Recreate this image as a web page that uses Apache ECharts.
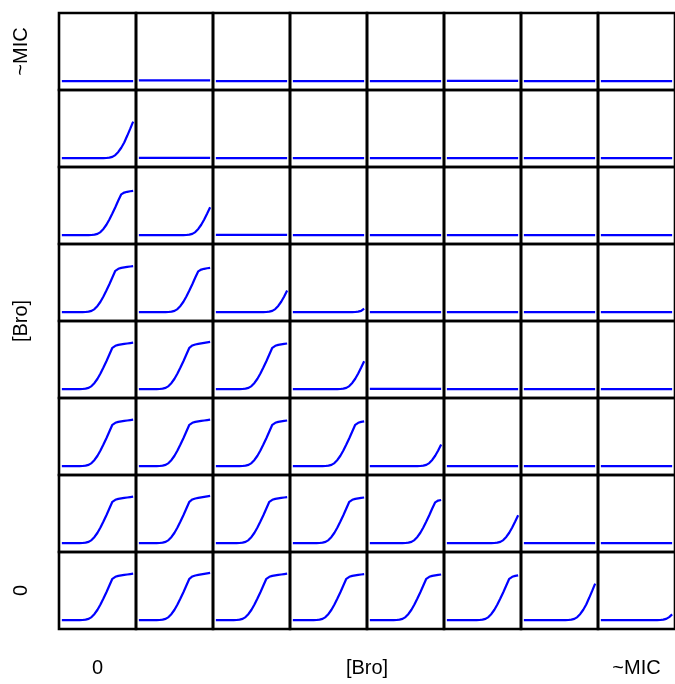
<!DOCTYPE html>
<html>
<head>
<meta charset="utf-8">
<script src="https://cdn.jsdelivr.net/npm/echarts@6/dist/echarts.min.js"></script>
<style>
html,body{margin:0;padding:0;background:#fff;}
#chart{width:675px;height:684px;}
</style>
</head>
<body>
<div id="chart"></div>
<script>
// time points (hours) shared by every panel
const hours = [0,1,2,3,4,5,6,7,8,9,10,11,12,13,14,15,16,17,18,19,20,21,22,23,24];

// tick / axis labels
const bottomLabels = ['0', '[Bro]', '~MIC'];
const leftLabels = ['~MIC', '[Bro]', '0'];

// flat (no growth) curves
const flatA = [0.115,0.115,0.116,0.115,0.115,0.116,0.115,0.115,0.116,0.115,0.115,0.116,0.115,0.115,0.115,0.116,0.115,0.115,0.116,0.115,0.115,0.116,0.115,0.116,0.116];
const flatB = [0.124,0.125,0.124,0.125,0.125,0.124,0.125,0.125,0.124,0.125,0.125,0.124,0.125,0.125,0.124,0.125,0.125,0.124,0.125,0.125,0.124,0.125,0.125,0.124,0.124];
const flatC = [0.118,0.118,0.118,0.119,0.118,0.118,0.118,0.119,0.118,0.118,0.118,0.119,0.118,0.118,0.118,0.119,0.118,0.118,0.118,0.119,0.118,0.118,0.118,0.119,0.118];

// growth curves, named by the hour at which the sharp bend (kink) appears
const grow17 = [0.115,0.115,0.115,0.115,0.116,0.115,0.116,0.117,0.121,0.131,0.155,0.195,0.25,0.318,0.395,0.478,0.565,0.652,0.678,0.69,0.697,0.703,0.708,0.713,0.718];
const grow17b = [0.115,0.115,0.115,0.115,0.115,0.116,0.116,0.117,0.121,0.131,0.155,0.195,0.25,0.318,0.395,0.478,0.565,0.652,0.682,0.695,0.703,0.71,0.716,0.722,0.728];
const grow18 = [0.115,0.115,0.115,0.115,0.115,0.115,0.116,0.116,0.117,0.121,0.131,0.155,0.195,0.25,0.318,0.395,0.478,0.565,0.652,0.678,0.69,0.697,0.703,0.708,0.713];
const grow19 = [0.115,0.115,0.115,0.115,0.115,0.115,0.115,0.116,0.116,0.117,0.121,0.131,0.155,0.195,0.25,0.318,0.395,0.478,0.565,0.652,0.678,0.69,0.697,0.703,0.708];
const grow20 = [0.115,0.115,0.115,0.115,0.115,0.115,0.115,0.115,0.116,0.116,0.117,0.121,0.131,0.155,0.195,0.25,0.318,0.395,0.478,0.565,0.645,0.668,0.678,0.685,0.69];
const grow21 = [0.115,0.115,0.115,0.115,0.115,0.115,0.115,0.115,0.115,0.116,0.116,0.117,0.121,0.131,0.155,0.195,0.25,0.318,0.395,0.478,0.565,0.652,0.678,0.69,0.697];
const grow22 = [0.115,0.115,0.115,0.115,0.115,0.115,0.115,0.115,0.115,0.115,0.116,0.116,0.117,0.121,0.131,0.155,0.195,0.25,0.318,0.395,0.478,0.565,0.645,0.668,0.675];
const grow25 = [0.115,0.115,0.115,0.115,0.115,0.115,0.115,0.115,0.115,0.115,0.115,0.115,0.115,0.115,0.116,0.117,0.121,0.131,0.155,0.195,0.25,0.318,0.405,0.495,0.59];
const grow26 = [0.115,0.115,0.115,0.115,0.115,0.115,0.115,0.115,0.115,0.115,0.115,0.115,0.115,0.115,0.115,0.116,0.117,0.121,0.131,0.155,0.195,0.25,0.318,0.395,0.478];
const grow27 = [0.115,0.115,0.115,0.115,0.115,0.115,0.115,0.115,0.115,0.115,0.115,0.115,0.115,0.115,0.115,0.115,0.116,0.117,0.121,0.131,0.155,0.195,0.25,0.318,0.395];
const grow30 = [0.115,0.115,0.115,0.115,0.115,0.115,0.115,0.115,0.115,0.115,0.115,0.115,0.115,0.115,0.115,0.115,0.115,0.115,0.115,0.116,0.117,0.121,0.131,0.155,0.19];
const grow31 = [0.115,0.115,0.115,0.115,0.115,0.115,0.115,0.115,0.115,0.115,0.115,0.115,0.115,0.115,0.115,0.115,0.115,0.115,0.115,0.115,0.116,0.117,0.121,0.131,0.162];

// panel rows, top (~MIC) to bottom (0); columns left (0) to right (~MIC)
const row1 = [flatA, flatB, flatA, flatA, flatA, flatC, flatA, flatA];
const row2 = [grow25, flatC, flatA, flatA, flatA, flatA, flatA, flatA];
const row3 = [grow20, grow26, flatC, flatA, flatA, flatA, flatA, flatA];
const row4 = [grow18, grow20, grow27, grow31, flatA, flatA, flatA, flatA];
const row5 = [grow17, grow17b, grow19, grow26, flatC, flatA, flatA, flatA];
const row6 = [grow17, grow17, grow19, grow21, grow27, flatA, flatA, flatA];
const row7 = [grow17, grow17b, grow18, grow19, grow22, grow26, flatA, flatA];
const row8 = [grow17, grow17b, grow17, grow18, grow19, grow21, grow25, grow30];
const rows = [row1, row2, row3, row4, row5, row6, row7, row8];

const chart = echarts.init(document.getElementById('chart'), null, {renderer: 'canvas'});

const X0 = 59, Y0 = 13, CELL = 77;
const grids = [], xAxes = [], yAxes = [], series = [];
rows.forEach((row, r) => {
  row.forEach((curve, c) => {
    const i = grids.length;
    grids.push({
      left: X0 + c * CELL, top: Y0 + r * CELL, width: CELL, height: CELL,
      show: true, borderColor: '#000', borderWidth: 2.6, backgroundColor: 'transparent'
    });
    xAxes.push({type: 'value', gridIndex: i, min: -0.96, max: 24.96, show: false});
    yAxes.push({type: 'value', gridIndex: i, min: 0, max: 1, show: false});
    series.push({
      type: 'line', xAxisIndex: i, yAxisIndex: i,
      data: hours.map((h, k) => [h, curve[k]]),
      showSymbol: false, symbol: 'none', silent: true,
      lineStyle: {color: '#0000FF', width: 2.2},
      animation: false
    });
  });
});

const font = {fontFamily: 'Liberation Sans, Arial, sans-serif', fontSize: 20, fill: '#000'};
const graphics = [];
const bx = [X0 + CELL / 2, X0 + 4 * CELL, X0 + 7.5 * CELL];
bottomLabels.forEach((t, k) => {
  graphics.push({type: 'text', x: bx[k], y: 668,
    style: Object.assign({text: t, align: 'center', verticalAlign: 'middle'}, font)});
});
const ly = [Y0 + CELL / 2, Y0 + 4 * CELL, Y0 + 7.5 * CELL];
leftLabels.forEach((t, k) => {
  graphics.push({type: 'text', x: 21, y: ly[k], rotation: Math.PI / 2,
    style: Object.assign({text: t, align: 'center', verticalAlign: 'middle'}, font)});
});

chart.setOption({
  animation: false,
  backgroundColor: '#fff',
  grid: grids,
  xAxis: xAxes,
  yAxis: yAxes,
  series: series,
  graphic: graphics
});
</script>
</body>
</html>
